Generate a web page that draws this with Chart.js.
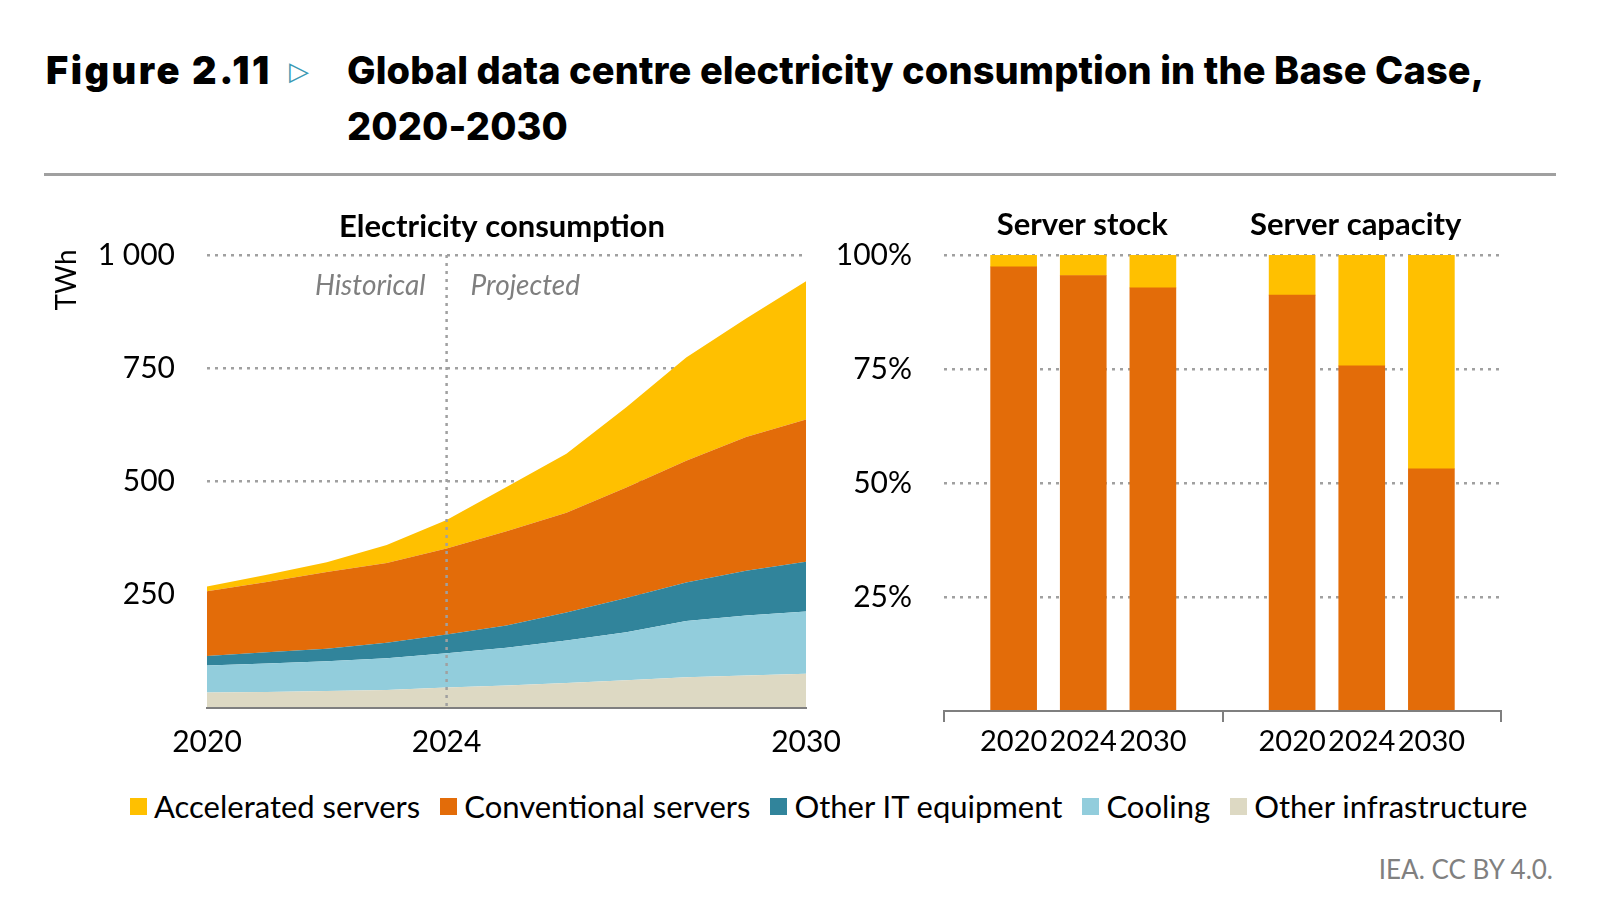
<!DOCTYPE html>
<html>
<head>
<meta charset="utf-8">
<script src="https://cdn.jsdelivr.net/npm/chart.js@4.4.1/dist/chart.umd.min.js"></script>
<style>
  body { margin: 0; width: 1616px; height: 902px; background: #fff; position: relative; overflow: hidden; font-family: Lato, sans-serif; }
  .fig { position: absolute; left: 46px; top: 43px; font-family: Inter, sans-serif; font-weight: 900; font-size: 38px; letter-spacing: 2.5px; line-height: 55px; color: #000; }
  .arrow { position: absolute; left: 289px; top: 44px; font-family: "DejaVu Sans", sans-serif; font-weight: bold; font-size: 26px; line-height: 55px; color: #3a9ab3; }
  .title { position: absolute; left: 347px; top: 42px; font-family: Inter, sans-serif; font-weight: 800; font-size: 38px; letter-spacing: 0.1px; line-height: 56px; color: #000; }
  .rule { position: absolute; left: 44px; top: 173px; width: 1512px; height: 3px; background: #a0a0a0; }
  canvas { position: absolute; }
  #energy { left: 40px; top: 200px; }
  #share { left: 820px; top: 200px; }
  .legend { position: absolute; left: 130px; top: 788px; display: flex; align-items: center; white-space: nowrap; font-size: 31px; line-height: 36px; color: #000; }
  .legend span.sw { display: inline-block; width: 17px; height: 17px; margin-right: 7px; }
  .legend span.item { display: inline-flex; align-items: center; margin-right: 20px; }
  .source { position: absolute; right: 63px; top: 852px; font-size: 26px; line-height: 34px; color: #808080; }
</style>
</head>
<body>
<div class="fig">Figure 2.11</div>
<div class="arrow">&#9655;</div>
<div class="title">Global data centre electricity consumption in the Base Case,<br>2020-2030</div>
<div class="rule"></div>
<canvas id="energy" width="820" height="570"></canvas>
<canvas id="share" width="700" height="570"></canvas>
<div class="legend" id="legend"></div>
<div class="source">IEA. CC BY 4.0.</div>
<script>
// electricity consumption, TWh
const years = [2020, 2021, 2022, 2023, 2024, 2025, 2026, 2027, 2028, 2029, 2030];
const otherInfra = [34, 35.5, 37.5, 39.5, 45, 49.5, 55, 61, 68, 72, 75.5];
const cooling = [60, 63, 65.5, 70.5, 76, 83.5, 94, 106, 124, 132, 137.5];
const otherIT = [21, 24.5, 28, 34, 41, 49, 62, 76, 85, 99, 110];
const conventional = [143, 155, 169, 176, 190, 208, 220, 244, 269, 295, 314];
const accelerated = [10, 16, 22, 40, 63, 98, 130, 177, 228, 262, 305];
const yearTicks = [2020, 2024, 2030];
const energyTicks = [250, 500, 750, 1000];
const energyTickLabels = ['250', '500', '750', '1 000'];

// server shares, %
const barYears = ['2020', '2024', '2030'];
const groupNames = ['Server stock', 'Server capacity'];
const stockConventional = [97.4, 95.5, 92.8];
const stockAccelerated = [2.6, 4.5, 7.2];
const capacityConventional = [91.2, 75.7, 53.1];
const capacityAccelerated = [8.8, 24.3, 46.9];
const shareTicks = [25, 50, 75, 100];
const shareTickLabels = ['25%', '50%', '75%', '100%'];

const seriesNames = ['Accelerated servers', 'Conventional servers', 'Other IT equipment', 'Cooling', 'Other infrastructure'];
const seriesColors = ['#ffc000', '#e36c09', '#31849b', '#92cddc', '#ddd9c3'];

const gridGrey = '#a0a0a0';
const axisGrey = '#7f7f7f';
const dots = [3, 5];

// legend
const legend = document.getElementById('legend');
seriesNames.forEach(function (name, i) {
    const item = document.createElement('span');
    item.className = 'item';
    item.innerHTML = '<span class="sw" style="background:' + seriesColors[i] + '"></span>' + name;
    legend.appendChild(item);
});

function pts(values) {
    return values.map(function (v, i) { return { x: years[i], y: v }; });
}

function area(idx, values, fill) {
    return {
        label: seriesNames[idx],
        data: pts(values),
        backgroundColor: seriesColors[idx],
        borderWidth: 0,
        pointRadius: 0,
        fill: fill,
        tension: 0
    };
}

const energyText = {
    id: 'energyText',
    afterDatasetsDraw: function (chart) {
        const ctx = chart.ctx;
        const a = chart.chartArea;
        const xd = chart.scales.x.getPixelForValue(2024);
        ctx.save();
        ctx.strokeStyle = gridGrey;
        ctx.lineWidth = 2.5;
        ctx.setLineDash(dots);
        ctx.beginPath();
        ctx.moveTo(xd, a.top);
        ctx.lineTo(xd, a.bottom);
        ctx.stroke();
        ctx.setLineDash([]);
        ctx.fillStyle = axisGrey;
        ctx.font = 'italic 28px Lato';
        ctx.textBaseline = 'middle';
        ctx.textAlign = 'right';
        ctx.fillText('Historical', xd - 21, a.top + 31);
        ctx.textAlign = 'left';
        ctx.fillText('Projected', xd + 24, a.top + 31);
        ctx.fillStyle = '#000';
        ctx.font = 'bold 31px Lato';
        ctx.textAlign = 'center';
        ctx.fillText('Electricity consumption', 462, 27);
        ctx.font = '28px Lato';
        ctx.translate(27, 80);
        ctx.rotate(-Math.PI / 2);
        ctx.fillText('TWh', 0, 0);
        ctx.restore();
    }
};

new Chart(document.getElementById('energy'), {
    type: 'line',
    data: {
        datasets: [
            area(4, otherInfra, 'origin'),
            area(3, cooling, '-1'),
            area(2, otherIT, '-1'),
            area(1, conventional, '-1'),
            area(0, accelerated, '-1')
        ]
    },
    options: {
        responsive: false,
        animation: false,
        layout: { padding: { top: 55, right: 54, left: 0, bottom: 0 } },
        plugins: { legend: { display: false }, tooltip: { enabled: false } },
        scales: {
            x: {
                type: 'linear',
                min: 2020,
                max: 2030,
                afterBuildTicks: function (scale) { scale.ticks = yearTicks.map(function (v) { return { value: v }; }); },
                afterFit: function (scale) { scale.height = 62; },
                grid: { display: false },
                border: { display: true, color: axisGrey, width: 2, z: 1 },
                ticks: {
                    padding: 8,
                    maxRotation: 0,
                    color: '#000',
                    font: { family: 'Lato', size: 30 },
                    callback: function (v) { return String(v); }
                }
            },
            y: {
                stacked: true,
                min: 0,
                max: 1000,
                afterBuildTicks: function (scale) { scale.ticks = [0].concat(energyTicks).map(function (v) { return { value: v }; }); },
                afterFit: function (scale) { scale.width = 167; },
                grid: {
                    drawTicks: false,
                    lineWidth: 2.5,
                    color: function (c) { return c.tick && c.tick.value === 0 ? 'rgba(0,0,0,0)' : gridGrey; }
                },
                border: { display: false, dash: dots },
                ticks: {
                    padding: 32,
                    color: '#000',
                    font: { family: 'Lato', size: 30 },
                    callback: function (v) { const i = energyTicks.indexOf(v); return i < 0 ? '' : energyTickLabels[i]; }
                }
            }
        }
    },
    plugins: [energyText]
});

// bar positions: three bars per group, one empty slot between groups
function barData(values, group) {
    return values.map(function (v, i) { return { x: group * 4 + i + 1, y: v }; });
}
const slotLabels = {};
groupNames.forEach(function (g, gi) {
    barYears.forEach(function (y, i) { slotLabels[gi * 4 + i + 1] = y; });
});
const titleShift = [-1, -6];

const shareText = {
    id: 'shareText',
    afterDraw: function (chart) {
        const ctx = chart.ctx;
        const xs = chart.scales.x;
        ctx.save();
        ctx.fillStyle = '#000';
        ctx.font = 'bold 31px Lato';
        ctx.textAlign = 'center';
        ctx.textBaseline = 'middle';
        groupNames.forEach(function (g, gi) {
            ctx.fillText(g, xs.getPixelForValue(gi * 4 + 2) + titleShift[gi], 25);
        });
        ctx.restore();
    }
};

new Chart(document.getElementById('share'), {
    type: 'bar',
    data: {
        datasets: [
            {
                label: seriesNames[1],
                data: barData(stockConventional, 0).concat(barData(capacityConventional, 1)),
                backgroundColor: seriesColors[1],
                barThickness: 46
            },
            {
                label: seriesNames[0],
                data: barData(stockAccelerated, 0).concat(barData(capacityAccelerated, 1)),
                backgroundColor: seriesColors[0],
                barThickness: 46
            }
        ]
    },
    options: {
        responsive: false,
        animation: false,
        layout: { padding: { top: 55, right: 19, left: 0, bottom: 0 } },
        plugins: { legend: { display: false }, tooltip: { enabled: false } },
        scales: {
            x: {
                type: 'linear',
                stacked: true,
                offset: false,
                min: 0,
                max: 8,
                afterFit: function (scale) { scale.height = 59; },
                grid: {
                    offset: false,
                    drawOnChartArea: false,
                    drawTicks: true,
                    tickLength: 11,
                    lineWidth: 2,
                    color: function (c) { return c.tick && c.tick.value % 4 === 0 ? axisGrey : 'rgba(0,0,0,0)'; }
                },
                border: { display: true, color: axisGrey, width: 2, z: 1 },
                ticks: {
                    stepSize: 1,
                    autoSkip: false,
                    maxRotation: 0,
                    padding: 2,
                    color: '#000',
                    font: { family: 'Lato', size: 29 },
                    callback: function (v) { return slotLabels[v] || ''; }
                }
            },
            y: {
                stacked: true,
                min: 0,
                max: 100,
                afterBuildTicks: function (scale) { scale.ticks = [0].concat(shareTicks).map(function (v) { return { value: v }; }); },
                afterFit: function (scale) { scale.width = 124; },
                grid: {
                    drawTicks: false,
                    lineWidth: 2.5,
                    color: function (c) { return c.tick && c.tick.value === 0 ? 'rgba(0,0,0,0)' : gridGrey; }
                },
                border: { display: false, dash: dots },
                ticks: {
                    padding: 32,
                    color: '#000',
                    font: { family: 'Lato', size: 30 },
                    callback: function (v) { const i = shareTicks.indexOf(v); return i < 0 ? '' : shareTickLabels[i]; }
                }
            }
        }
    },
    plugins: [shareText]
});
</script>
</body>
</html>
